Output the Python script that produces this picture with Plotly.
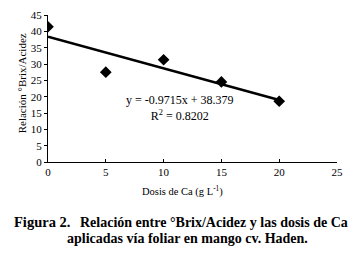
import plotly.graph_objects as go

dosis = [0, 5, 10, 15, 20]
brix_acidez = [41.4, 27.5, 31.3, 24.5, 18.6]
slope = -0.9715
intercept = 38.379
trend_x = [0, 20]
x_ticks = [0, 5, 10, 15, 20, 25]
y_ticks = [0, 5, 10, 15, 20, 25, 30, 35, 40, 45]

W, H = 352, 266
L, R, T, B = 48, 14, 9, 104
pw, ph = W - L - R, H - T - B

def px(x):
    return (x - L) / pw

def py(y):
    return (H - B - y) / ph

serif = "Liberation Serif"

fig = go.Figure()
fig.add_trace(go.Scatter(
    x=trend_x, y=[slope * v + intercept for v in trend_x],
    mode="lines", line=dict(color="black", width=2.6), showlegend=False))
fig.add_trace(go.Scatter(
    x=dosis, y=brix_acidez, mode="markers",
    marker=dict(symbol="diamond", size=9, color="black"), showlegend=False))

axis_common = dict(showgrid=False, zeroline=False, showline=True, linecolor="black",
                   linewidth=1, tickcolor="black", ticklen=3, tickwidth=1,
                   tickfont=dict(family=serif, size=11, color="black"))
fig.update_xaxes(range=[0, 25], tickvals=x_ticks, ticks="inside", **axis_common)
fig.update_yaxes(range=[0, 45], tickvals=y_ticks, ticks="outside", **axis_common)

ann = [
    dict(x=px(180), y=py(123), xref="paper", yref="paper",
         text="y = -0.9715x + 38.379<br>R<sup>2</sup> = 0.8202", align="center",
         showarrow=False, font=dict(family=serif, size=12, color="black")),
    dict(x=px(183), y=py(202), xref="paper", yref="paper",
         text="Dosis de Ca (g L<sup>-1</sup>)", showarrow=False,
         font=dict(family=serif, size=10.5, color="black")),
    dict(x=px(14), y=py(80), xref="paper", yref="paper", textangle=-90,
         text="Relación °Brix/Acidez", showarrow=False,
         font=dict(family=serif, size=11, color="black")),
    dict(x=px(12), y=py(235), xref="paper", yref="paper", xanchor="left",
         text="<b>Figura 2.</b>", showarrow=False,
         font=dict(family=serif, size=14.5, color="black")),
    dict(x=px(78), y=py(235), xref="paper", yref="paper", xanchor="left",
         text="<b>Relación entre °Brix/Acidez y las dosis de Ca</b>", showarrow=False,
         font=dict(family=serif, size=14, color="black")),
    dict(x=px(65), y=py(252), xref="paper", yref="paper", xanchor="left",
         text="<b>aplicadas vía foliar en mango cv. Haden.</b>", showarrow=False,
         font=dict(family=serif, size=14, color="black")),
]

fig.update_layout(width=W, height=H, margin=dict(l=L, r=R, t=T, b=B),
                  paper_bgcolor="white", plot_bgcolor="white", annotations=ann)
fig.write_html("out.html", config={"displayModeBar": False})

with open("out.html", encoding="utf-8") as f:
    html = f.read()
html = html.replace("<head>", "<head><style>html,body{margin:0;padding:0;}</style>", 1)
with open("out.html", "w", encoding="utf-8") as f:
    f.write(html)
